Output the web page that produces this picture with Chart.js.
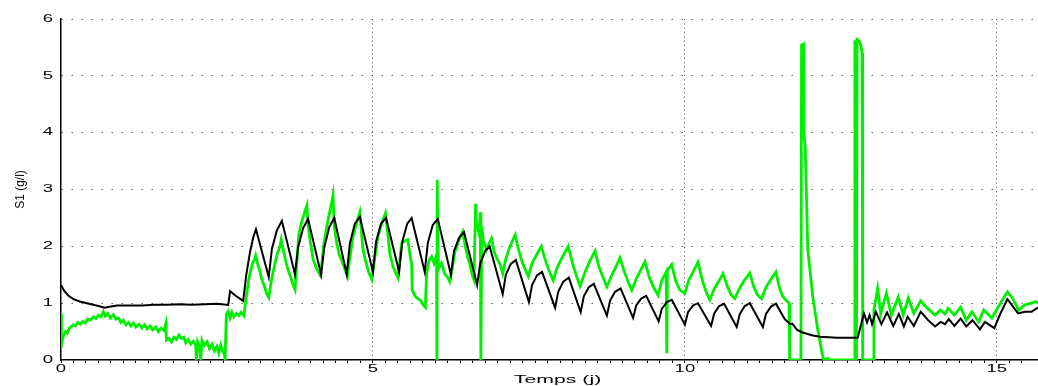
<!DOCTYPE html>
<html>
<head>
<meta charset="utf-8">
<script src="https://cdn.jsdelivr.net/npm/chart.js@4.4.1/dist/chart.umd.min.js"></script>
<style>
  html, body { margin: 0; padding: 0; background: #fff; overflow: hidden; }
  #graficoS1 { display: block; }
</style>
</head>
<body>
<canvas id="graficoS1" width="1038" height="386"></canvas>
<script>
// modele (noir)
const modeleTemps = [
  0, 0.05, 0.12, 0.2, 0.3, 0.45, 0.6, 0.7, 0.8, 0.9, 1.1, 1.3, 1.5, 1.7, 1.9, 2.1, 2.3, 2.5, 2.68,
  2.71, 2.8, 2.92, 2.97, 3.03, 3.08, 3.125,
  3.33, 3.38, 3.46, 3.54, 3.75, 3.80, 3.88, 3.96, 4.17, 4.22, 4.30, 4.38,
  4.58, 4.63, 4.71, 4.79, 5.00, 5.05, 5.13, 5.21, 5.42, 5.47, 5.55, 5.62,
  5.83, 5.88, 5.96, 6.04, 6.25, 6.30, 6.38, 6.46, 6.67, 6.72, 6.80, 6.87,
  7.08, 7.13, 7.21, 7.29, 7.50, 7.55, 7.63, 7.71, 7.92, 7.97, 8.05, 8.14,
  8.33, 8.38, 8.46, 8.54, 8.75, 8.80, 8.88, 8.97, 9.17, 9.22, 9.30, 9.38,
  9.58, 9.63, 9.71, 9.79, 10.00, 10.05, 10.13, 10.21, 10.42, 10.47, 10.55, 10.63,
  10.83, 10.88, 10.96, 11.04, 11.25, 11.30, 11.38, 11.46,
  11.60, 11.69, 11.72, 11.80, 11.90, 12.05, 12.17, 12.44, 12.77,
  12.87, 12.92, 12.96, 13.00, 13.06, 13.15, 13.24, 13.34, 13.43, 13.51, 13.57, 13.67,
  13.78, 13.90, 14.01, 14.10, 14.17, 14.23, 14.32, 14.42, 14.51, 14.61, 14.73, 14.81,
  14.96, 15.05, 15.17, 15.34, 15.45, 15.56, 15.64, 15.70
];
const modeleS1 = [
  1.32, 1.22, 1.13, 1.07, 1.03, 0.99, 0.95, 0.92, 0.94, 0.96, 0.96, 0.96, 0.97, 0.97, 0.98, 0.97, 0.98, 0.99, 0.97,
  1.21, 1.13, 1.04, 1.50, 1.90, 2.15, 2.30,
  1.46, 1.95, 2.28, 2.45, 1.51, 1.98, 2.32, 2.48, 1.50, 1.98, 2.34, 2.50,
  1.51, 2.05, 2.40, 2.52, 1.55, 2.08, 2.40, 2.50, 1.55, 2.08, 2.40, 2.50,
  1.55, 2.06, 2.38, 2.48, 1.50, 1.92, 2.15, 2.25, 1.32, 1.70, 1.92, 2.00,
  1.16, 1.50, 1.69, 1.76, 1.02, 1.32, 1.49, 1.55, 0.92, 1.20, 1.38, 1.45,
  0.84, 1.12, 1.28, 1.34, 0.78, 1.04, 1.20, 1.26, 0.74, 0.96, 1.08, 1.13,
  0.68, 0.90, 1.02, 1.06, 0.62, 0.84, 0.96, 1.00, 0.60, 0.82, 0.95, 0.99,
  0.58, 0.81, 0.95, 1.00, 0.58, 0.81, 0.94, 0.99,
  0.72, 0.63, 0.64, 0.53, 0.48, 0.43, 0.41, 0.39, 0.39,
  0.82, 0.66, 0.79, 0.63, 0.85, 0.63, 0.84, 0.60, 0.81, 0.59, 0.76, 0.60,
  0.85, 0.70, 0.59, 0.67, 0.63, 0.72, 0.60, 0.73, 0.59, 0.70, 0.54, 0.67,
  0.56, 0.80, 1.07, 0.82, 0.85, 0.85, 0.91, 0.92
];

// mesures (vert)
const mesureTemps = [
  0.00, 0.005, 0.01, 0.04, 0.07, 0.10, 0.13, 0.16, 0.20, 0.23, 0.27, 0.31, 0.35, 0.39, 0.43, 0.47,
  0.52, 0.56, 0.60, 0.64, 0.68, 0.71, 0.75, 0.79, 0.84, 0.88, 0.92, 0.96, 1.00, 1.04, 1.08, 1.12,
  1.16, 1.20, 1.25, 1.30, 1.34, 1.38, 1.43, 1.47, 1.52, 1.56, 1.60, 1.65, 1.68, 1.69, 1.73, 1.77,
  1.81, 1.85, 1.89, 1.93, 1.97, 2.00, 2.04, 2.08, 2.12, 2.16, 2.17, 2.19, 2.22, 2.24, 2.26, 2.30,
  2.34, 2.38, 2.42, 2.46, 2.50, 2.53, 2.56, 2.59, 2.62, 2.63, 2.65, 2.68, 2.71, 2.74, 2.77, 2.81,
  2.85, 2.89, 2.93, 2.97, 3.00, 3.03, 3.07, 3.10, 3.12, 3.15, 3.19, 3.22, 3.26, 3.30, 3.33, 3.37,
  3.40, 3.43, 3.47, 3.51, 3.53, 3.56, 3.60, 3.64, 3.68, 3.72, 3.75, 3.78, 3.81, 3.85, 3.89, 3.94,
  3.96, 4.00, 4.04, 4.09, 4.15, 4.18, 4.22, 4.26, 4.31, 4.34, 4.36, 4.38, 4.42, 4.46, 4.50, 4.55,
  4.59, 4.63, 4.68, 4.73, 4.79, 4.84, 4.88, 4.93, 4.98, 5.03, 5.08, 5.14, 5.20, 5.24, 5.27, 5.32,
  5.37, 5.40, 5.46, 5.52, 5.56, 5.60, 5.62, 5.63, 5.68, 5.72, 5.76, 5.80, 5.84, 5.86, 5.90, 5.94,
  5.98, 6.02, 6.025, 6.03, 6.05, 6.10, 6.15, 6.20, 6.23, 6.27, 6.31, 6.36, 6.41, 6.44, 6.48, 6.52,
  6.55, 6.59, 6.62, 6.645, 6.66, 6.70, 6.72, 6.73, 6.745, 6.77, 6.82, 6.86, 6.90, 6.94, 6.98, 7.04,
  7.08, 7.13, 7.18, 7.23, 7.28, 7.32, 7.37, 7.43, 7.49, 7.55, 7.62, 7.70, 7.75, 7.82, 7.89, 7.95,
  8.03, 8.13, 8.20, 8.27, 8.32, 8.40, 8.48, 8.56, 8.62, 8.70, 8.75, 8.83, 8.90, 8.96, 9.03, 9.10,
  9.15, 9.23, 9.30, 9.36, 9.43, 9.50, 9.57, 9.63, 9.70, 9.71, 9.72, 9.79, 9.85, 9.92, 10.00, 10.06,
  10.13, 10.21, 10.28, 10.34, 10.40, 10.47, 10.54, 10.61, 10.68, 10.74, 10.80, 10.87, 10.95, 11.04, 11.10, 11.16,
  11.23, 11.30, 11.38, 11.46, 11.52, 11.57, 11.62, 11.67, 11.68, 11.86, 11.87, 11.90, 11.905, 11.93, 11.97, 12.05,
  12.13, 12.20, 12.22, 12.29, 12.30, 12.72, 12.725, 12.745, 12.75, 12.76, 12.79, 12.82, 12.84, 12.85, 13.02, 13.03,
  13.09, 13.14, 13.23, 13.31, 13.42, 13.50, 13.58, 13.67, 13.78, 13.87, 14.01, 14.10, 14.17, 14.22, 14.32, 14.42,
  14.51, 14.60, 14.71, 14.79, 14.92, 15.02, 15.17, 15.24, 15.35, 15.45, 15.56, 15.62, 15.70
];
const mesureS1 = [
  0.25, 0.82, 0.30, 0.42, 0.50, 0.47, 0.56, 0.58, 0.62, 0.60, 0.66, 0.63, 0.68, 0.65, 0.72, 0.70,
  0.76, 0.73, 0.79, 0.76, 0.85, 0.77, 0.82, 0.74, 0.80, 0.72, 0.74, 0.66, 0.70, 0.62, 0.66, 0.60,
  0.65, 0.58, 0.63, 0.56, 0.62, 0.55, 0.60, 0.53, 0.58, 0.50, 0.56, 0.52, 0.64, 0.35, 0.38, 0.32,
  0.40, 0.36, 0.44, 0.38, 0.40, 0.30, 0.36, 0.28, 0.33, 0.26, 0.00, 0.32, 0.24, 0.00, 0.35, 0.26,
  0.32, 0.20, 0.28, 0.16, 0.24, 0.12, 0.26, 0.15, 0.10, 0.00, 0.80, 0.86, 0.74, 0.84, 0.76, 0.82,
  0.78, 0.84, 0.78, 1.11, 1.35, 1.53, 1.70, 1.76, 1.84, 1.70, 1.55, 1.41, 1.30, 1.16, 1.10, 1.38,
  1.55, 1.70, 1.88, 2.00, 2.12, 1.95, 1.75, 1.58, 1.46, 1.32, 1.24, 1.70, 2.20, 2.40, 2.55, 2.72,
  2.38, 2.05, 1.78, 1.62, 1.50, 1.70, 2.10, 2.35, 2.62, 2.78, 2.90, 2.35, 2.05, 1.85, 1.75, 1.60,
  1.47, 1.80, 2.17, 2.38, 2.60, 1.95, 1.75, 1.55, 1.42, 1.80, 2.17, 2.40, 2.58, 2.20, 1.88, 1.65,
  1.52, 1.45, 2.05, 2.10, 2.12, 1.80, 1.70, 1.23, 1.12, 1.08, 1.05, 0.98, 0.93, 1.53, 1.75, 1.82,
  1.70, 1.85, 0.00, 3.17, 1.60, 1.70, 1.52, 1.45, 1.38, 1.60, 1.88, 2.05, 2.20, 2.26, 2.00, 1.80,
  1.70, 1.50, 1.41, 2.75, 2.40, 2.23, 2.60, 0.00, 2.35, 2.10, 1.94, 2.05, 2.14, 1.92, 1.80, 1.68,
  1.52, 1.78, 1.95, 2.08, 2.20, 2.00, 1.80, 1.62, 1.47, 1.70, 1.85, 2.00, 1.80, 1.58, 1.40, 1.62,
  1.80, 2.00, 1.70, 1.45, 1.30, 1.55, 1.75, 1.92, 1.65, 1.42, 1.29, 1.50, 1.65, 1.80, 1.55, 1.35,
  1.23, 1.45, 1.60, 1.73, 1.45, 1.28, 1.14, 1.40, 1.55, 0.12, 1.58, 1.68, 1.40, 1.23, 1.17, 1.40,
  1.55, 1.72, 1.40, 1.20, 1.06, 1.25, 1.38, 1.52, 1.30, 1.15, 1.08, 1.25, 1.40, 1.53, 1.30, 1.15,
  1.08, 1.28, 1.42, 1.55, 1.25, 1.12, 1.05, 1.00, 0.00, 0.00, 5.54, 5.56, 4.00, 3.72, 1.94, 1.11,
  0.53, 0.12, 0.00, 0.03, 0.00, 0.00, 5.60, 5.60, 0.00, 5.64, 5.62, 5.54, 5.40, 0.00, 0.00, 0.88,
  1.26, 0.82, 1.17, 0.79, 1.11, 0.79, 1.09, 0.82, 1.04, 0.93, 0.79, 0.88, 0.81, 0.91, 0.79, 0.93,
  0.70, 0.85, 0.67, 0.88, 0.74, 0.93, 1.20, 1.11, 0.88, 0.97, 1.00, 1.03, 0.98
];

const xMin = 0;
const xMax = 15.66;
const yMin = 0;
const yMax = 6;

const police = "'Liberation Sans', Arial, sans-serif";
const etirement = 1.85; // le texte horizontal de la figure d'origine est etire en largeur

function isMajor(v) {
    return Math.abs(v - Math.round(v / 5) * 5) < 1e-6;
}

// etiquettes des axes dessinees etirees comme sur l'original
const etiquettesEtirees = {
    id: 'etiquettesEtirees',
    afterDraw(chart) {
        const { ctx, scales: { x, y } } = chart;
        const ecrire = (txt, px, py, align, taille) => {
            ctx.save();
            ctx.translate(px, py);
            ctx.scale(etirement, 1);
            ctx.font = `${taille}px ${police}`;
            ctx.fillStyle = '#000';
            ctx.textAlign = align;
            ctx.textBaseline = 'middle';
            ctx.fillText(txt, 0, 0);
            ctx.restore();
        };
        x.ticks.filter(t => isMajor(t.value)).forEach(t => {
            ecrire(String(Math.round(t.value)), x.getPixelForValue(t.value), x.top + 9, 'center', 10);
        });
        y.ticks.forEach(t => {
            ecrire(String(t.value), y.right - 8, y.getPixelForValue(t.value), 'right', 10);
        });
        ecrire('Temps (j)', (x.left + x.right) / 2 + 8, x.top + 20, 'center', 11.5);
    }
};

const ctx = document.getElementById('graficoS1').getContext('2d');
new Chart(ctx, {
    type: 'line',
    data: {
        datasets: [{
            label: 'modele',
            data: modeleTemps.map((t, i) => ({ x: t, y: modeleS1[i] })),
            borderColor: '#000000',
            borderWidth: 2,
            pointRadius: 0,
            tension: 0,
            fill: false
        }, {
            label: 'mesure',
            data: mesureTemps.map((t, i) => ({ x: t, y: mesureS1[i] })),
            borderColor: '#00ee00',
            borderWidth: 2.8,
            pointRadius: 0,
            tension: 0,
            fill: false
        }]
    },
    plugins: [etiquettesEtirees],
    options: {
        responsive: false,
        animation: false,
        events: [],
        layout: { padding: { top: 19, right: 0, left: 0, bottom: 0 } },
        plugins: {
            legend: { display: false },
            tooltip: { enabled: false }
        },
        scales: {
            x: {
                type: 'linear',
                min: xMin,
                max: xMax,
                afterFit: s => { s.height = 26; },
                ticks: {
                    display: false,
                    stepSize: 0.2,
                    autoSkip: false
                },
                grid: {
                    color: c => (c.tick && isMajor(c.tick.value) && c.tick.value > 0) ? '#666' : 'rgba(0,0,0,0)',
                    lineWidth: 1,
                    drawTicks: true,
                    tickLength: 3,
                    tickColor: '#000',
                    tickWidth: 1
                },
                border: { display: true, color: '#000', width: 1.5, dash: [1.3, 3] }
            },
            y: {
                min: yMin,
                max: yMax,
                afterFit: s => { s.width = 61; },
                ticks: {
                    display: false,
                    stepSize: 1
                },
                grid: {
                    color: c => (c.tick && c.tick.value > 0) ? '#666' : 'rgba(0,0,0,0)',
                    lineWidth: 1,
                    drawTicks: false
                },
                border: { display: true, color: '#000', width: 1.5, dash: [1.5, 8.5] },
                title: {
                    display: true,
                    text: 'S1 (g/l)',
                    color: '#000',
                    font: { family: police, size: 12 },
                    padding: { top: 13, bottom: 0 }
                }
            }
        }
    }
});
</script>
</body>
</html>
